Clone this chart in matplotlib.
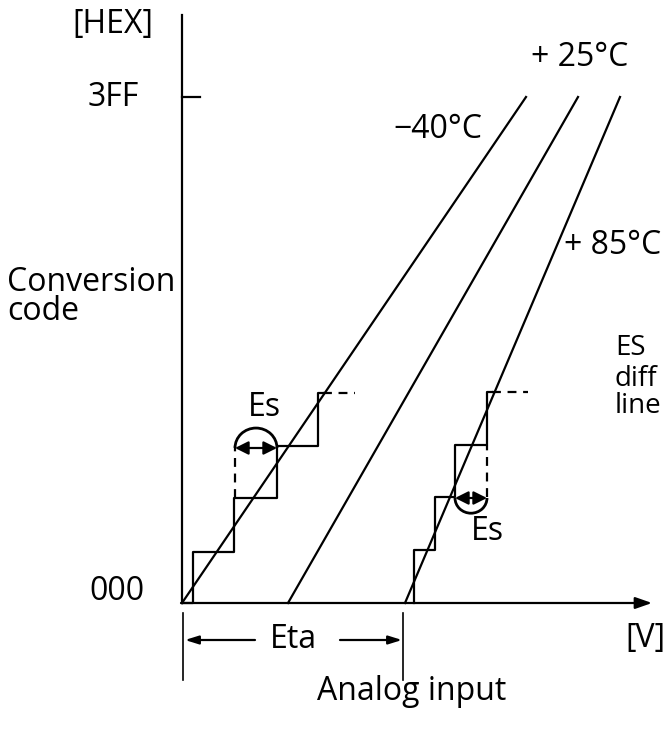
import matplotlib
matplotlib.use('Agg')
import matplotlib.pyplot as plt
from matplotlib.patches import Arc

plt.rcParams['font.family'] = ['Open Sans', 'DejaVu Sans']

# 坐标单位: 原点在两轴交点, 向右为模拟输入, 向上为转换码
CODE_TOP = 506           # 3FF 对应高度
X_END = 470              # 横轴箭头终点

# 三条温度特性直线 (底端 x, 顶端 x)
temps = ['\u221240\u00b0C', '+ 25\u00b0C', '+ 85\u00b0C']
line_x_bottom = [0, 106, 223]
line_x_top = [344, 396, 438]

# -40°C 附近的量化阶梯
stair1_x = [0, 11, 11, 52, 52, 95, 95, 136, 136, 141]
stair1_y = [0, 0, 51, 51, 105, 105, 157, 157, 210, 210]
stair1_dash_x = [141, 173]
stair1_gap_x = 53          # 虚线竖线位置
stair1_gap_y = [105, 157]

# +85°C 附近的量化阶梯
stair2_x = [232, 232, 253, 253, 273, 273, 305, 305, 310]
stair2_y = [0, 53, 53, 106, 106, 158, 158, 211, 211]
stair2_dash_x = [310, 346]
stair2_gap_x = 305
stair2_gap_y = [106, 158]

# Es 误差箭头 (x0, x1, y)
es1 = (53, 95, 155)
es2 = (273, 305, 105)
eta_x = [1, 221]

fig = plt.figure(figsize=(6.64, 7.40), dpi=100)
ax = fig.add_axes([0, 0, 1, 1])
ax.set_xlim(-182, 482)
ax.set_ylim(-137, 603)
ax.axis('off')

lw = 1.6
fs = 23

# 坐标轴
ax.plot([0, 0], [0, 588], color='black', lw=lw)
ax.plot([0, 18], [CODE_TOP, CODE_TOP], color='black', lw=lw)
ax.annotate('', xy=(X_END, 0), xytext=(-1, 0),
            arrowprops=dict(arrowstyle='-|>,head_length=1.0,head_width=0.35',
                            color='black', lw=lw, shrinkA=0, shrinkB=0))

# 温度特性直线
for xb, xt in zip(line_x_bottom, line_x_top):
    ax.plot([xb, xt], [0, CODE_TOP], color='black', lw=lw)

# 阶梯
for sx, sy, dx, gx, gy in [(stair1_x, stair1_y, stair1_dash_x, stair1_gap_x, stair1_gap_y),
                           (stair2_x, stair2_y, stair2_dash_x, stair2_gap_x, stair2_gap_y)]:
    ax.plot(sx, sy, color='black', lw=lw)
    ax.plot(dx, [sy[-1], sy[-1]], color='black', lw=lw, ls=(0, (4, 3)))
    ax.plot([gx, gx], gy, color='black', lw=lw, ls=(0, (4, 3)))

# Es 箭头及圆弧
for (x0, x1, y), (t1, t2) in [(es1, (0, 180)), (es2, (180, 360))]:
    ax.annotate('', xy=(x0, y), xytext=(x1, y),
                arrowprops=dict(arrowstyle='<|-|>,head_length=0.8,head_width=0.4',
                                color='black', lw=lw, shrinkA=0, shrinkB=0))
    w = x1 - x0
    ax.add_patch(Arc(((x0 + x1) / 2, y), w, w * 0.95, theta1=t1, theta2=t2,
                     color='black', lw=lw + 0.4))

# Eta 尺寸标注
for x in eta_x:
    ax.plot([x, x], [-10, -77], color='black', lw=1.2)
ax.annotate('', xy=(eta_x[0] + 2, -37), xytext=(73, -37),
            arrowprops=dict(arrowstyle='-|>,head_length=0.8,head_width=0.25',
                            color='black', lw=lw, shrinkA=0, shrinkB=0))
ax.annotate('', xy=(eta_x[1] - 1, -37), xytext=(158, -37),
            arrowprops=dict(arrowstyle='-|>,head_length=0.8,head_width=0.25',
                            color='black', lw=lw, shrinkA=0, shrinkB=0))

# 文字
txt = dict(fontsize=fs, color='black')
ax.text(-69, 578, '[HEX]', ha='center', va='center', **txt)
ax.text(-69, 505, '3FF', ha='center', va='center', **txt)
ax.text(-65, 11, '000', ha='center', va='center', **txt)
ax.text(-175, 306, 'Conversion\ncode', ha='left', va='center',
        multialignment='left', linespacing=0.85, **txt)
ax.text(300, 474, temps[0], ha='right', va='center', **txt)
ax.text(398, 546, temps[1], ha='center', va='center', **txt)
ax.text(431, 357, temps[2], ha='center', va='center', **txt)
ax.text(82, 196, 'Es', ha='center', va='center', **txt)
ax.text(305, 71, 'Es', ha='center', va='center', **txt)
side = dict(fontsize=20, color='black', ha='left', va='center')
ax.text(433, 255, 'ES', **side)
ax.text(433, 224, 'diff', **side)
ax.text(433, 197, 'line', **side)
ax.text(463, -35, '[V]', ha='center', va='center', **txt)
ax.text(111, -36, 'Eta', ha='center', va='center', **txt)
ax.text(230, -89, 'Analog input', ha='center', va='center', **txt)

fig.savefig('out.png', dpi=100, facecolor='white')
